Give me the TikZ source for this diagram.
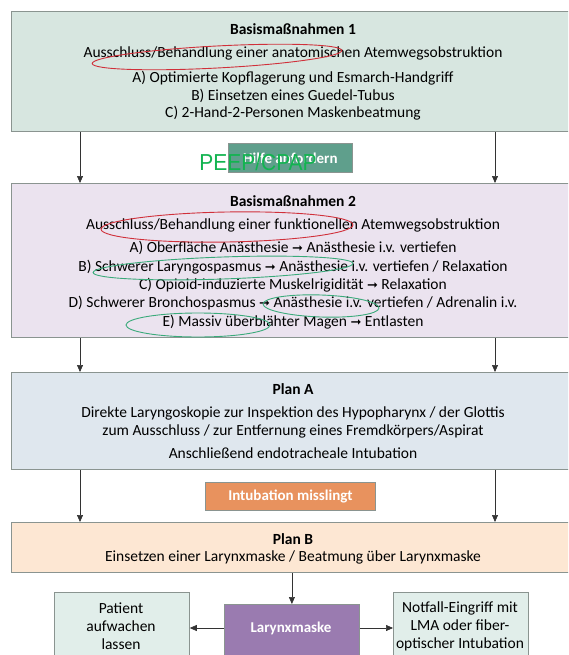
\documentclass[tikz,border=0pt]{standalone}
\usepackage{fontspec}
\setmainfont{Carlito}
\newfontfamily\symfont{DejaVu Sans}
\newfontfamily\peepfont{Liberation Sans}
\usetikzlibrary{positioning}
\usetikzlibrary{arrows.meta}
\newcommand{\pfeil}{{\symfont\fontsize{13}{13}\selectfont ➞}}
\definecolor{bmgreen}{HTML}{D7E6E0}
\definecolor{bmlila}{HTML}{EBE3EF}
\definecolor{planblau}{HTML}{DFE7EE}
\definecolor{planpeach}{HTML}{FDE7D3}
\definecolor{hilfeteal}{HTML}{5F9F8C}
\definecolor{misorange}{HTML}{E8925E}
\definecolor{lmalila}{HTML}{9A7BB0}
\definecolor{sidegreen}{HTML}{E1EEEA}
\definecolor{rand}{HTML}{8A9490}
\definecolor{kreisrot}{HTML}{D0303A}
\definecolor{kreisgruen}{HTML}{3AAA7A}
\definecolor{peepgruen}{HTML}{12B450}
\tikzset{
    bigbox/.style = {rectangle, draw=rand, line width=1pt, anchor=north west, minimum width=570pt},
    sidebox/.style = {rectangle, draw=rand, line width=0.8pt, fill=sidegreen, minimum width=135pt, minimum height=80pt, anchor=north west},
    tagbox/.style = {rectangle, draw=rand, line width=0.8pt, text=white, font=\fontsize{15}{16}\selectfont\bfseries, anchor=north west},
    txt/.style = {font=\fontsize{15.5}{18}\selectfont, inner sep=0pt},
    ttl/.style = {font=\fontsize{15.5}{18}\selectfont\bfseries, inner sep=0pt},
    arr/.style = {-{Triangle[length=7pt,width=6pt]}, line width=0.6pt, black!80},
    ringr/.style = {draw=kreisrot, line width=0.9pt},
    ringg/.style = {draw=kreisgruen, line width=0.9pt}
}
\begin{document}
\begin{tikzpicture}[x=1pt,y=-1pt]
\useasboundingbox (0,0) rectangle (568,655);
\clip (0,0) rectangle (568,655);
\fill[white] (0,0) rectangle (568,655);
% boxes
\node[bigbox, fill=bmgreen, minimum height=120pt] at (11,11) (bm1) {};
\node[bigbox, fill=bmlila, minimum height=154pt] at (11,183) (bm2) {};
\node[bigbox, fill=planblau, minimum height=97pt] at (11,372) (pla) {};
\node[bigbox, fill=planpeach, minimum height=50pt] at (11,522) (plb) {};
\node[tagbox, fill=hilfeteal, minimum width=124pt, minimum height=29pt] at (228,143) (hilfe) {Hilfe anfordern};
\node[tagbox, fill=misorange, minimum width=170pt, minimum height=28pt] at (205,482) (miss) {Intubation misslingt};
\node[tagbox, fill=lmalila, minimum width=135pt, minimum height=60pt] at (224,604) (lma) {};
\node[txt, text=white, font=\fontsize{15}{16}\selectfont\bfseries] at (291,628) (lmat) {Larynxmaske};
\node[sidebox] at (54,592) (wach) {};
\node[txt, align=center, font=\fontsize{15.5}{18}\selectfont] at (121,626) (wacht) {Patient\\aufwachen\\lassen};
\node[sidebox] at (393,592) (notf) {};
\node[txt, align=center, font=\fontsize{15.5}{18}\selectfont] at (460,626) (notft) {Notfall-Eingriff mit\\LMA oder fiber-\\optischer Intubation};
%
\node[ttl] at (293,29) (t1) {Basismaßnahmen 1};
\node[txt] at (293,53) (t1a) {Ausschluss/Behandlung einer anatomischen Atemwegsobstruktion};
\node[txt] at (293,78) (t1b) {A) Optimierte Kopflagerung und Esmarch-Handgriff};
\node[txt] at (293,96) (t1c) {B) Einsetzen eines Guedel-Tubus};
\node[txt] at (293,113) (t1d) {C) 2-Hand-2-Personen Maskenbeatmung};
%
\node[ttl] at (293,201) (t2) {Basismaßnahmen 2};
\node[txt] at (293,225) (t2a) {Ausschluss/Behandlung einer funktionellen Atemwegsobstruktion};
\node[txt] at (293,248) (t2b) {A) Oberfläche Anästhesie \pfeil{} Anästhesie i.v. vertiefen};
\node[txt] at (293,267) (t2c) {B) Schwerer Laryngospasmus \pfeil{} Anästhesie i.v. vertiefen / Relaxation};
\node[txt] at (293,285) (t2d) {C) Opioid-induzierte Muskelrigidität \pfeil{} Relaxation};
\node[txt] at (293,303) (t2e) {D) Schwerer Bronchospasmus \pfeil{} Anästhesie i.v. vertiefen / Adrenalin i.v.};
\node[txt] at (293,322) (t2f) {E) Massiv überblähter Magen \pfeil{} Entlasten};
%
\node[ttl] at (293,389) (t3) {Plan A};
\node[txt] at (293,413) (t3a) {Direkte Laryngoskopie zur Inspektion des Hypopharynx / der Glottis};
\node[txt] at (293,431) (t3b) {zum Ausschluss / zur Entfernung eines Fremdkörpers/Aspirat};
\node[txt] at (293,453) (t3c) {Anschließend endotracheale Intubation};
%
\node[ttl] at (293,539) (t4) {Plan B};
\node[txt] at (293,557) (t4a) {Einsetzen einer Larynxmaske / Beatmung über Larynxmaske};
%
\draw[arr] (bm1.south -| 80,0) -- (bm2.north -| 80,0);
\draw[arr] (bm1.south -| 495,0) -- (bm2.north -| 495,0);
\draw[arr] (bm2.south -| 80,0) -- (pla.north -| 80,0);
\draw[arr] (bm2.south -| 495,0) -- (pla.north -| 495,0);
\draw[arr] (pla.south -| 80,0) -- (plb.north -| 80,0);
\draw[arr] (pla.south -| 495,0) -- (plb.north -| 495,0);
\draw[arr] (plb.south -| lma.north) -- (lma.north);
\draw[arr] (lma.west |- lmat) -- (wach.east |- lmat);
\draw[arr] (lma.east |- lmat) -- (notf.west |- lmat);
% markings
\node[text=peepgruen, font=\peepfont\fontsize{21}{21}\selectfont, inner sep=0pt, yscale=1.1, transform shape] at (258,162) (peep) {PEEP/CPAP};
\draw[ringr, rotate around={3:(217,57)}] (217,57) ellipse (125pt and 11pt);
\draw[ringr, rotate around={1:(227,227)}] (227,227) ellipse (126pt and 15pt);
\draw[ringg, rotate around={2:(223,268)}] (223,268) ellipse (130pt and 11pt);
\draw[ringg, rotate around={-2:(321,306)}] (321,306) ellipse (58pt and 11pt);
\draw[ringg] (198,325) ellipse (72pt and 12pt);
\end{tikzpicture}
\end{document}
